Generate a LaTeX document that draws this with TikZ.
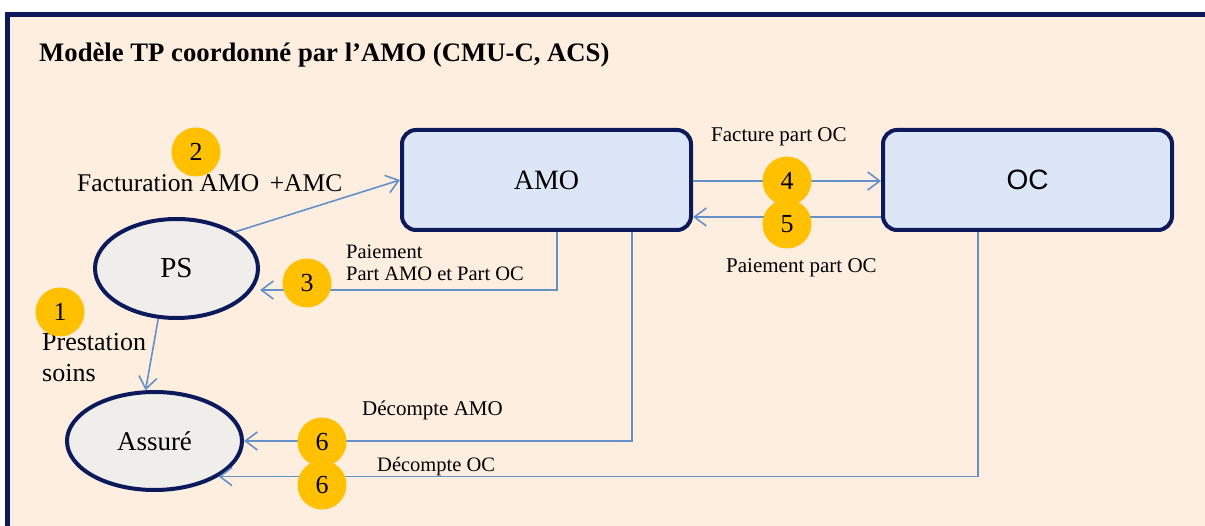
\documentclass[tikz,border=0pt]{standalone}
\usepackage{fontspec}
\setmainfont{Liberation Serif}
\newfontfamily\sanf{Liberation Sans}
\usetikzlibrary{arrows.meta,shapes.geometric}
\definecolor{bgpeach}{RGB}{254,238,224}
\definecolor{navy}{RGB}{12,26,92}
\definecolor{boxfill}{RGB}{220,230,246}
\definecolor{ellfill}{RGB}{239,238,234}
\definecolor{conncol}{RGB}{100,144,200}
\definecolor{badgecol}{RGB}{255,192,0}
\newcommand{\fs}[1]{\fontsize{#1}{#1}\selectfont}
\tikzset{
  boxnode/.style={draw=navy, line width=4pt, fill=boxfill, rounded corners=14pt,
    minimum width=289pt, minimum height=100pt, inner sep=0pt},
  ellnode/.style={ellipse, draw=navy, line width=4pt, fill=ellfill, inner sep=0pt},
  conn/.style={draw=conncol, line width=1.6pt, -{Straight Barb[length=12pt,width=18pt,line width=1.6pt]}},
  badge/.style={circle, fill=badgecol, minimum size=49pt, inner sep=0pt, font=\fs{26}},
  lbl/.style={anchor=west, inner sep=0pt},
}
\begin{document}
\begin{tikzpicture}[x=1pt,y=-1pt]
\useasboundingbox (0,0) rectangle (1205,526);
% background and frame
\fill[bgpeach] (5,12) rectangle (1205,526);
\draw[navy, line width=5pt] (7.5,530) -- (7.5,14.5) -- (1205,14.5);
% title
\node[lbl, font=\bfseries\fs{26.7}] (title) at (39,55) {Modèle TP coordonné par l’AMO (CMU-C, ACS)};
% main nodes
\node[boxnode, font=\fs{28}] (AMO) at (546.5,180) {AMO};
\node[boxnode, font=\sanf\fs{28}] (OC) at (1027.5,180) {OC};
\node[ellnode, minimum width=163pt, minimum height=99pt, font=\fs{29}] (PS) at (176.5,268.5) {PS};
\node[ellnode, minimum width=175pt, minimum height=98pt, font=\fs{27}] (Ass) at (154.5,441) {Assuré};
% connectors
\draw[conn] (PS.32) -- (AMO.west);
\draw[conn] (AMO.south -| 557,0) |- (PS.east |- 0,290);
\draw[conn] (PS.250) -- (Ass.100);
\draw[conn] (AMO.east |- 0,181) -- (OC.west |- 0,181);
\draw[conn] (OC.west |- 0,217) -- (AMO.east |- 0,217);
\draw[conn] (AMO.south -| 632,0) |- (Ass.east);
\draw[conn] (OC.south -| 978,0) |- (Ass.-29);
% labels
\node[lbl, font=\fs{25.5}] (l2) at (77,183) {Facturation AMO \,+AMC};
\node[lbl, font=\fs{20.5}, align=left] (l3) at (346,263) {Paiement\\[2pt]Part AMO et Part OC};
\node[lbl, font=\fs{26}, align=left] (l1) at (42,358) {Prestation\\[5pt]soins};
\node[lbl, font=\fs{21}] (l4) at (711,137) {Facture part OC};
\node[lbl, font=\fs{21}] (l5) at (726,268) {Paiement part OC};
\node[lbl, font=\fs{21}] (l6a) at (362,410) {Décompte AMO};
% badges
\node[badge] (b1) at (60,312) {1};
\node[badge] (b2) at (196,152) {2};
\node[badge] (b3) at (307,283) {3};
\node[badge] (b4) at (787,181) {4};
\node[badge] (b5) at (787,224) {5};
\node[badge] (b6a) at (322,442) {6};
\node[badge] (b6b) at (322,485) {6};
\node[lbl, font=\fs{20.5}] (l6b) at (377,467) {Décompte OC};
\end{tikzpicture}
\end{document}
